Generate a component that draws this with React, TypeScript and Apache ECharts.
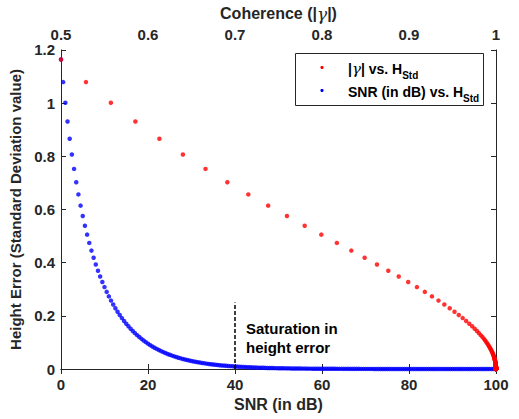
import React, { useEffect, useRef } from "react";
import * as echarts from "echarts";

const SNR_DB = [
  0, 0.5, 1, 1.5, 2, 2.5, 3, 3.5, 4, 4.5, 5, 5.5, 6, 6.5, 7, 7.5, 8, 8.5, 9, 9.5,
  10, 10.5, 11, 11.5, 12, 12.5, 13, 13.5, 14, 14.5, 15, 15.5, 16, 16.5, 17, 17.5, 18, 18.5, 19, 19.5,
  20, 20.5, 21, 21.5, 22, 22.5, 23, 23.5, 24, 24.5, 25, 25.5, 26, 26.5, 27, 27.5, 28, 28.5, 29, 29.5,
  30, 30.5, 31, 31.5, 32, 32.5, 33, 33.5, 34, 34.5, 35, 35.5, 36, 36.5, 37, 37.5, 38, 38.5, 39, 39.5,
  40, 40.5, 41, 41.5, 42, 42.5, 43, 43.5, 44, 44.5, 45, 45.5, 46, 46.5, 47, 47.5, 48, 48.5, 49, 49.5,
  50, 50.5, 51, 51.5, 52, 52.5, 53, 53.5, 54, 54.5, 55, 55.5, 56, 56.5, 57, 57.5, 58, 58.5, 59, 59.5,
  60, 60.5, 61, 61.5, 62, 62.5, 63, 63.5, 64, 64.5, 65, 65.5, 66, 66.5, 67, 67.5, 68, 68.5, 69, 69.5,
  70, 70.5, 71, 71.5, 72, 72.5, 73, 73.5, 74, 74.5, 75, 75.5, 76, 76.5, 77, 77.5, 78, 78.5, 79, 79.5,
  80, 80.5, 81, 81.5, 82, 82.5, 83, 83.5, 84, 84.5, 85, 85.5, 86, 86.5, 87, 87.5, 88, 88.5, 89, 89.5,
  90, 90.5, 91, 91.5, 92, 92.5, 93, 93.5, 94, 94.5, 95, 95.5, 96, 96.5, 97, 97.5, 98, 98.5, 99, 99.5,
  100,
];

const COHERENCE = [
  0.5, 0.5287, 0.5573, 0.5855, 0.6131, 0.6401, 0.6661, 0.6912, 0.7153, 0.7381,
  0.7597, 0.7801, 0.7992, 0.8171, 0.8337, 0.849, 0.8632, 0.8762, 0.8882, 0.8991,
  0.9091, 0.9182, 0.9264, 0.9339, 0.9406, 0.9468, 0.9523, 0.9572, 0.9617, 0.9657,
  0.9693, 0.9726, 0.9755, 0.9781, 0.9804, 0.9825, 0.9844, 0.9861, 0.9876, 0.9889,
  0.9901, 0.9912, 0.9921, 0.993, 0.9937, 0.9944, 0.995, 0.9956, 0.996, 0.9965,
  0.9969, 0.9972, 0.9975, 0.9978, 0.998, 0.9982, 0.9984, 0.9986, 0.9987, 0.9989,
  0.999, 0.9991, 0.9992, 0.9993, 0.9994, 0.9994, 0.9995, 0.9996, 0.9996, 0.9996,
  0.9997, 0.9997, 0.9998, 0.9998, 0.9998, 0.9998, 0.9998, 0.9999, 0.9999, 0.9999,
  0.9999, 0.9999, 0.9999, 0.9999, 0.9999, 0.9999, 0.9999, 1, 1, 1,
  1, 1, 1, 1, 1, 1, 1, 1, 1, 1,
  1, 1, 1, 1, 1, 1, 1, 1, 1, 1,
  1, 1, 1, 1, 1, 1, 1, 1, 1, 1,
  1, 1, 1, 1, 1, 1, 1, 1, 1, 1,
  1, 1, 1, 1, 1, 1, 1, 1, 1, 1,
  1, 1, 1, 1, 1, 1, 1, 1, 1, 1,
  1, 1, 1, 1, 1, 1, 1, 1, 1, 1,
  1, 1, 1, 1, 1, 1, 1, 1, 1, 1,
  1, 1, 1, 1, 1, 1, 1, 1, 1, 1,
  1, 1, 1, 1, 1, 1, 1, 1, 1, 1,
  1, 1, 1, 1, 1, 1, 1, 1, 1, 1,
  1,
];

const H_STD = [
  1.164, 1.079, 1.001, 0.9305, 0.8658, 0.8067, 0.7524, 0.7025, 0.6566, 0.6143,
  0.5751, 0.5389, 0.5053, 0.4742, 0.4452, 0.4182, 0.393, 0.3696, 0.3477, 0.3271,
  0.308, 0.29, 0.2731, 0.2573, 0.2425, 0.2285, 0.2154, 0.2031, 0.1915, 0.1806,
  0.1703, 0.1607, 0.1516, 0.143, 0.1349, 0.1273, 0.1201, 0.1133, 0.107, 0.101,
  0.0953, 0.0897, 0.0847, 0.0799, 0.0755, 0.0712, 0.0673, 0.0635, 0.0599, 0.0566,
  0.0534, 0.0504, 0.0476, 0.045, 0.0424, 0.0401, 0.0378, 0.0357, 0.0337, 0.0318,
  0.03, 0.0284, 0.0268, 0.0253, 0.0239, 0.0225, 0.0213, 0.0201, 0.019, 0.0179,
  0.0169, 0.016, 0.0151, 0.0142, 0.0134, 0.0127, 0.012, 0.0113, 0.0107, 0.0101,
  0.0095, 0.009, 0.0085, 0.008, 0.0076, 0.0071, 0.0067, 0.0064, 0.006, 0.0057,
  0.0053, 0.005, 0.0048, 0.0045, 0.0042, 0.004, 0.0038, 0.0036, 0.0034, 0.0032,
  0.003, 0.0028, 0.0027, 0.0025, 0.0024, 0.0023, 0.0021, 0.002, 0.0019, 0.0018,
  0.0017, 0.0016, 0.0015, 0.0014, 0.0013, 0.0013, 0.0012, 0.0011, 0.0011, 0.001,
  0.001, 0.0009, 0.0008, 0.0008, 0.0008, 0.0007, 0.0007, 0.0006, 0.0006, 0.0006,
  0.0005, 0.0005, 0.0005, 0.0004, 0.0004, 0.0004, 0.0004, 0.0004, 0.0003, 0.0003,
  0.0003, 0.0003, 0.0003, 0.0003, 0.0002, 0.0002, 0.0002, 0.0002, 0.0002, 0.0002,
  0.0002, 0.0002, 0.0002, 0.0001, 0.0001, 0.0001, 0.0001, 0.0001, 0.0001, 0.0001,
  0.0001, 0.0001, 0.0001, 0.0001, 0.0001, 0.0001, 0.0001, 0.0001, 0.0001, 0.0001,
  0.0001, 0.0001, 0, 0, 0, 0, 0, 0, 0, 0,
  0, 0, 0, 0, 0, 0, 0, 0, 0, 0,
  0, 0, 0, 0, 0, 0, 0, 0, 0, 0,
  0,
];

const SNR_TICKS = { min: 0, max: 100, interval: 20 };
const COH_TICKS = { min: 0.5, max: 1, interval: 0.1 };
const H_TICKS = { min: 0, max: 1.2, interval: 0.2 };
const SATURATION_SNR = 40;
const SATURATION_TOP = 0.25;

const FONT = "'Liberation Sans', Arial, sans-serif";
const AX = "#262626";

export default function App() {
  const ref = useRef<HTMLDivElement>(null);
  useEffect(() => {
    document.body.style.margin = "0";
    const chart = echarts.init(ref.current!, null, { renderer: "svg" });
    const axisCommon = {
      type: "value",
      axisLine: { show: true, lineStyle: { color: AX, width: 1 } },
      axisTick: { show: true, inside: true, length: 5, lineStyle: { color: AX } },
      splitLine: { show: false },
      axisLabel: { fontSize: 15, fontWeight: "bold", color: AX, fontFamily: FONT },
    };
    chart.setOption({
      animation: false,
      backgroundColor: "#fff",
      textStyle: { fontFamily: FONT },
      grid: { left: 61, right: 23, top: 41, bottom: 50, containLabel: false },
      xAxis: [
        {
          ...axisCommon,
          position: "bottom",
          ...SNR_TICKS,
          axisLabel: { ...axisCommon.axisLabel, margin: 8 },
          name: "SNR (in dB)",
          nameLocation: "middle",
          nameGap: 25,
          nameTextStyle: { fontSize: 16, fontWeight: "bold", color: AX, fontFamily: FONT, verticalAlign: "top" },
        },
        {
          ...axisCommon,
          position: "top",
          ...COH_TICKS,
          axisLabel: { ...axisCommon.axisLabel, margin: 8 },
          name: "{a|Coherence (|}{g|γ}{a||)}",
          nameLocation: "middle",
          nameGap: 24,
          nameTextStyle: {
            verticalAlign: "bottom",
            rich: {
              a: { fontSize: 16, fontWeight: "bold", color: AX, fontFamily: FONT },
              g: { fontSize: 17, fontStyle: "italic", fontWeight: "normal", color: AX, fontFamily: "'DejaVu Serif', serif" },
            },
          },
        },
      ],
      yAxis: [
        {
          ...axisCommon,
          position: "left",
          ...H_TICKS,
          axisLabel: { ...axisCommon.axisLabel, margin: 6 },
          name: "Height Error (Standard Deviation value)",
          nameLocation: "middle",
          nameGap: 31,
          nameTextStyle: { fontSize: 15, fontWeight: "bold", color: AX, fontFamily: FONT },
        },
        {
          ...axisCommon,
          position: "right",
          ...H_TICKS,
          axisLabel: { show: false },
        },
      ],
      series: [
        {
          type: "scatter",
          name: "SNR (in dB) vs. H_Std",
          xAxisIndex: 0,
          yAxisIndex: 0,
          symbolSize: 4.5,
          itemStyle: { color: "#0000ff" },
          data: SNR_DB.map((x, i) => [x, H_STD[i]]),
          markLine: {
            silent: true,
            symbol: ["none", "none"],
            label: { show: false },
            lineStyle: { type: [4, 2], color: "#000", width: 1.5 },
            data: [[{ coord: [SATURATION_SNR, 0] }, { coord: [SATURATION_SNR, SATURATION_TOP] }]],
          },
        },
        {
          type: "scatter",
          name: "|γ| vs. H_Std",
          xAxisIndex: 1,
          yAxisIndex: 0,
          symbolSize: 4.5,
          itemStyle: { color: "#ff0000" },
          data: COHERENCE.map((x, i) => [x, H_STD[i]]),
        },
      ],
      graphic: [
        {
          type: "text",
          left: 246,
          top: 319,
          z: 50,
          style: {
            text: "Saturation in\nheight error",
            font: `bold 15px ${FONT}`,
            lineHeight: 19,
            fill: "#000",
          },
        },
        {
          type: "group",
          z: 100,
          children: [
            {
              type: "rect",
              shape: { x: 295.5, y: 53.5, width: 188, height: 52 },
              style: { fill: "#fff", stroke: AX, lineWidth: 1 },
            },
            { type: "circle", shape: { cx: 322, cy: 67.5, r: 1.6 }, style: { fill: "#ff0000" } },
            { type: "circle", shape: { cx: 322, cy: 90.5, r: 1.6 }, style: { fill: "#0000ff" } },
            {
              type: "text",
              x: 348,
              y: 69,
              style: {
                text: "{n||}{g|γ}{n|| vs. H}{s|Std}",
                verticalAlign: "middle",
                rich: {
                  n: { fontSize: 14, fontWeight: "bold", fill: "#000", fontFamily: FONT, lineHeight: 22, verticalAlign: "middle" },
                  g: { fontSize: 15, fontStyle: "italic", fill: "#000", fontFamily: "'DejaVu Serif', serif", lineHeight: 22, verticalAlign: "middle" },
                  s: { fontSize: 10, fontWeight: "bold", fill: "#000", fontFamily: FONT, lineHeight: 22, verticalAlign: "bottom" },
                },
              },
            },
            {
              type: "text",
              x: 348,
              y: 92,
              style: {
                text: "{n|SNR (in dB) vs. H}{s|Std}",
                verticalAlign: "middle",
                rich: {
                  n: { fontSize: 14, fontWeight: "bold", fill: "#000", fontFamily: FONT, lineHeight: 22, verticalAlign: "middle" },
                  s: { fontSize: 10, fontWeight: "bold", fill: "#000", fontFamily: FONT, lineHeight: 22, verticalAlign: "bottom" },
                },
              },
            },
          ],
        },
      ],
    });
    return () => chart.dispose();
  }, []);
  return <div ref={ref} style={{ width: 519, height: 419 }} />;
}
